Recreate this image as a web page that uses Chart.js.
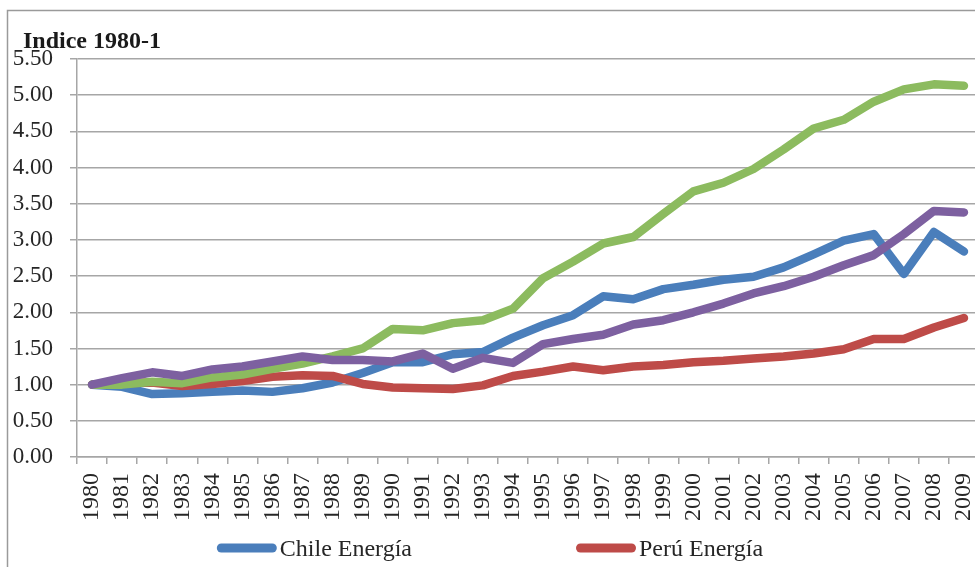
<!DOCTYPE html>
<html>
<head>
<meta charset="utf-8">
<script src="https://cdn.jsdelivr.net/npm/chart.js@4/dist/chart.umd.min.js"></script>
<style>
  html, body { margin: 0; padding: 0; background: #fff; overflow: hidden; }
  #wrap { position: relative; width: 990px; height: 567px; }
</style>
</head>
<body>
<div id="wrap"><canvas id="c" width="990" height="567"></canvas></div>
<script>
// Years on the category axis
const years = ['1980','1981','1982','1983','1984','1985','1986','1987','1988','1989',
  '1990','1991','1992','1993','1994','1995','1996','1997','1998','1999',
  '2000','2001','2002','2003','2004','2005','2006','2007','2008','2009'];

// Index values, 1980 = 1
const chileEnergia = [1.00,0.97,0.87,0.88,0.90,0.92,0.90,0.95,1.03,1.16,
  1.31,1.31,1.42,1.45,1.65,1.82,1.96,2.22,2.18,2.32,
  2.38,2.45,2.49,2.62,2.80,2.99,3.08,2.53,3.11,2.84];

const peruEnergia = [1.00,1.02,1.03,0.98,1.01,1.05,1.11,1.13,1.12,1.01,
  0.96,0.95,0.94,0.99,1.12,1.18,1.25,1.20,1.25,1.27,
  1.31,1.33,1.36,1.39,1.43,1.49,1.63,1.63,1.79,1.92];

const serie3 = [1.00,1.00,1.04,1.02,1.10,1.14,1.22,1.29,1.39,1.50,
  1.77,1.75,1.85,1.89,2.05,2.47,2.70,2.95,3.04,3.36,
  3.67,3.79,3.98,4.25,4.54,4.66,4.91,5.08,5.15,5.13];

const serie4 = [1.00,1.09,1.17,1.12,1.21,1.25,1.32,1.39,1.34,1.34,
  1.32,1.43,1.22,1.37,1.30,1.56,1.63,1.69,1.83,1.89,
  2.00,2.12,2.26,2.36,2.49,2.65,2.79,3.08,3.40,3.38];

// Y axis tick values
const yTicks = [0,0.5,1,1.5,2,2.5,3,3.5,4,4.5,5,5.5];

const seriesNames = ['Chile Energía','Perú Energía','Serie 3','Serie 4'];
const legendNames = ['Chile Energía','Perú Energía'];

const SERIF = '"Liberation Serif", "DejaVu Serif", serif';
const TEXT = '#262626';
const GRID = '#a6a6a6';

function lineSet(label, data, color, order) {
  return {
    label, data, order,
    borderColor: color,
    backgroundColor: color,
    borderWidth: 8.5,
    borderCapStyle: 'round',
    borderJoinStyle: 'round',
    pointRadius: 0,
    pointHoverRadius: 0,
    tension: 0,
    fill: false
  };
}

// Outer frame of the chart box
const framePlugin = {
  id: 'frame',
  beforeDraw(chart) {
    const ctx = chart.ctx;
    ctx.save();
    ctx.fillStyle = '#fff';
    ctx.fillRect(0, 0, chart.width, chart.height);
    ctx.strokeStyle = '#9a9a9a';
    ctx.lineWidth = 1.5;
    ctx.strokeRect(7.5, 10.5, chart.width + 20, chart.height + 20);
    ctx.restore();
  }
};

// Axis caption over the value axis
const captionPlugin = {
  id: 'caption',
  afterDraw(chart) {
    const ctx = chart.ctx;
    ctx.save();
    ctx.font = 'bold 24px ' + SERIF;
    ctx.fillStyle = '#1a1a1a';
    ctx.textAlign = 'left';
    ctx.textBaseline = 'alphabetic';
    ctx.fillText('Indice 1980-1', 23, 48);
    ctx.restore();
  }
};

// Legend row with rounded line swatches
const legendPlugin = {
  id: 'lineLegend',
  afterDraw(chart) {
    const ctx = chart.ctx;
    const items = chart.data.datasets.filter(d => legendNames.includes(d.label));
    ctx.save();
    ctx.font = '24px ' + SERIF;
    const sw = 60, gap = 3, itemGap = 164;
    const widths = items.map(d => ctx.measureText(d.label).width);
    let total = 0;
    widths.forEach((w, i) => { total += sw + gap + w + (i < widths.length - 1 ? itemGap : 0); });
    let x = 490 - total / 2;
    const y = 548;
    items.forEach((d, i) => {
      ctx.strokeStyle = d.borderColor;
      ctx.lineWidth = 9;
      ctx.lineCap = 'round';
      ctx.beginPath();
      ctx.moveTo(x + 4.5, y);
      ctx.lineTo(x + sw - 4.5, y);
      ctx.stroke();
      ctx.fillStyle = TEXT;
      ctx.textAlign = 'left';
      ctx.textBaseline = 'alphabetic';
      ctx.fillText(d.label, x + sw + gap, y + 8);
      x += sw + gap + widths[i] + itemGap;
    });
    ctx.restore();
  }
};

new Chart(document.getElementById('c'), {
  type: 'line',
  data: {
    labels: years,
    datasets: [
      lineSet(seriesNames[0], chileEnergia, '#4a7ebb', 3),
      lineSet(seriesNames[1], peruEnergia, '#be4b48', 2),
      lineSet(seriesNames[2], serie3, '#8cbb5f', 1),
      lineSet(seriesNames[3], serie4, '#7d60a0', 0)
    ]
  },
  options: {
    responsive: false,
    devicePixelRatio: 1,
    animation: false,
    events: [],
    layout: { padding: { left: 0, top: 59, right: 11, bottom: 40 } },
    plugins: {
      legend: { display: false },
      title: { display: false },
      tooltip: { enabled: false }
    },
    scales: {
      x: {
        type: 'category',
        offset: true,
        grid: {
          offset: true,
          drawOnChartArea: false,
          drawTicks: true,
          tickLength: 7,
          color: GRID,
          lineWidth: 1.5
        },
        border: { display: true, color: GRID, width: 1.5 },
        ticks: {
          autoSkip: false,
          maxRotation: 90,
          minRotation: 90,
          padding: 9,
          color: TEXT,
          font: { family: SERIF, size: 24 }
        },
        afterFit(scale) {
          scale.height = 70;
          scale.paddingLeft = 0;
          scale.paddingRight = 0;
        }
      },
      y: {
        min: 0,
        max: 5.5,
        afterBuildTicks(scale) { scale.ticks = yTicks.map(v => ({ value: v })); },
        grid: {
          drawTicks: true,
          tickLength: 7,
          color: GRID,
          lineWidth: 1.5
        },
        border: { display: true, color: GRID, width: 1.5 },
        ticks: {
          padding: 17,
          color: TEXT,
          font: { family: SERIF, size: 23 },
          callback: v => Number(v).toFixed(2)
        },
        afterFit(scale) { scale.width = 77; }
      }
    }
  },
  plugins: [framePlugin, captionPlugin, legendPlugin]
});
</script>
</body>
</html>
